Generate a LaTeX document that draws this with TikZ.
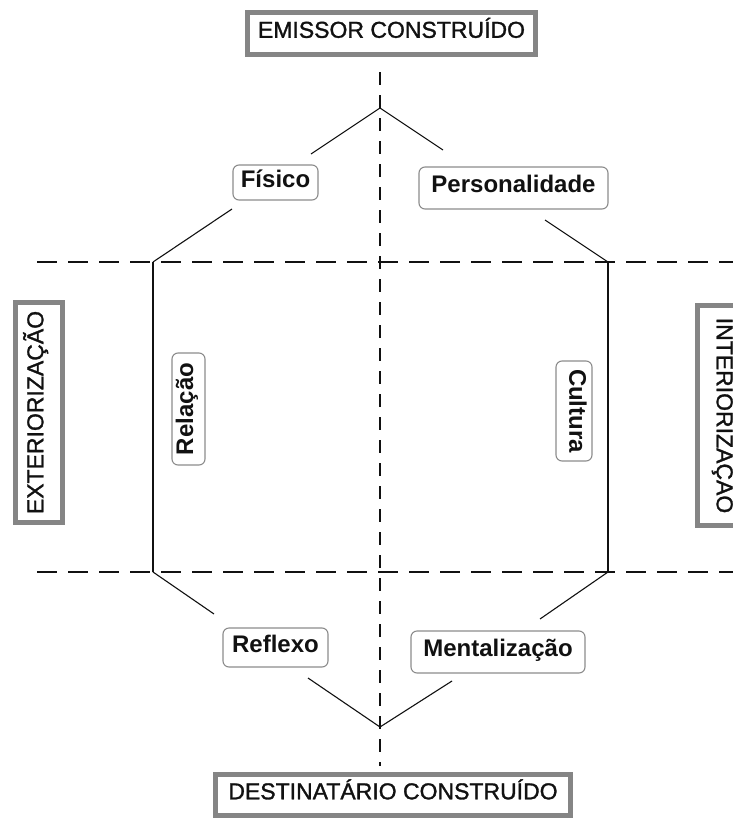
\documentclass[tikz,border=0pt]{standalone}
\usepackage{fontspec}
\setmainfont{Liberation Sans}
\newfontfamily\headfont[FakeBold=1.3]{Liberation Sans}
\definecolor{headgray}{HTML}{858585}
\definecolor{taggray}{HTML}{8C8C8C}
\definecolor{ink}{HTML}{111111}
\begin{document}
\begin{tikzpicture}[x=1pt,y=-1pt,
  headbox/.style={draw=headgray, line width=5pt, fill=white, inner sep=0pt,
    text=ink, font=\headfont\fontsize{23}{27}\selectfont, text height=0.86em, text depth=0pt},
  tagbox/.style={draw=taggray, line width=1.1pt, rounded corners=6pt, fill=white,
    inner sep=0pt, text=ink, font=\bfseries\fontsize{24}{28}\selectfont,
    text height=0.92em, text depth=0pt},
  haxis/.style={draw=ink, line width=1.8pt, dash pattern=on 20pt off 11pt},
  vaxis/.style={draw=ink, line width=1.8pt, dash pattern=on 13pt off 10pt},
  link/.style={draw=ink, line width=1.1pt}]

\useasboundingbox (0,0) rectangle (733,819);
\clip (0,0) rectangle (733,819);
\fill[white] (0,0) rectangle (733,819);

% axis end points
\coordinate (hl1) at (37,262);  \coordinate (hr1) at (740,262);
\coordinate (hl2) at (37,572);  \coordinate (hr2) at (740,572);
\coordinate (vt)  at (380,72);  \coordinate (vb)  at (380,766);

% corners of the hexagon
\coordinate (apexT) at (380,108);
\coordinate (apexB) at (380,727);
\coordinate (cTL) at (153,262);
\coordinate (cTR) at (608,262);
\coordinate (cBL) at (153,572);
\coordinate (cBR) at (608,572);

% free ends of the broken sides, near the labels
\coordinate (fisA) at (311,154);
\coordinate (fisB) at (232,209);
\coordinate (perA) at (443,150);
\coordinate (perB) at (545,220);
\coordinate (refA) at (214,614);
\coordinate (refB) at (308,678);
\coordinate (menA) at (452,681);
\coordinate (menB) at (540,619);

% dashed axes
\draw[haxis] (hl1) -- (hr1);
\draw[haxis] (hl2) -- (hr2);
\draw[vaxis] (vt) -- (vb);

% hexagon sides
\draw[link] (apexT) -- (fisA);
\draw[link] (fisB) -- (cTL);
\draw[link] (apexT) -- (perA);
\draw[link] (perB) -- (cTR);
\draw[link] (cTL) -- (cBL);
\draw[link] (cTR) -- (cBR);
\draw[link] (cBL) -- (refA);
\draw[link] (refB) -- (apexB);
\draw[link] (apexB) -- (menA);
\draw[link] (menB) -- (cBR);

% poles
\node[headbox, minimum width=288pt, minimum height=42pt] (emissor) at (391.5,33.5) {EMISSOR CONSTRUÍDO};
\node[headbox, minimum width=355pt, minimum height=41pt] (destin) at (393,795) {DESTINATÁRIO CONSTRUÍDO};
\node[headbox, minimum width=220pt, minimum height=47pt, rotate=90] (exter) at (39,412.5) {EXTERIORIZAÇÃO};
\node[headbox, minimum width=220pt, minimum height=47pt, rotate=-90] (inter) at (721,415.5) {INTERIORIZAÇÃO};

% labels
\node[tagbox, minimum width=85pt, minimum height=35pt] (fisico) at (275.5,182.5) {Físico};
\node[tagbox, minimum width=189pt, minimum height=42pt] (perso) at (513.5,188) {Personalidade};
\node[tagbox, minimum width=105pt, minimum height=39pt] (reflexo) at (275.5,647.5) {Reflexo};
\node[tagbox, minimum width=174pt, minimum height=42pt] (mental) at (498,652) {Mentalização};
\node[tagbox, minimum width=112pt, minimum height=33pt, rotate=90] (relacao) at (188.5,409) {Relação};
\node[tagbox, minimum width=100pt, minimum height=36pt, rotate=-90] (cultura) at (574,411) {Cultura};
\end{tikzpicture}
\end{document}
